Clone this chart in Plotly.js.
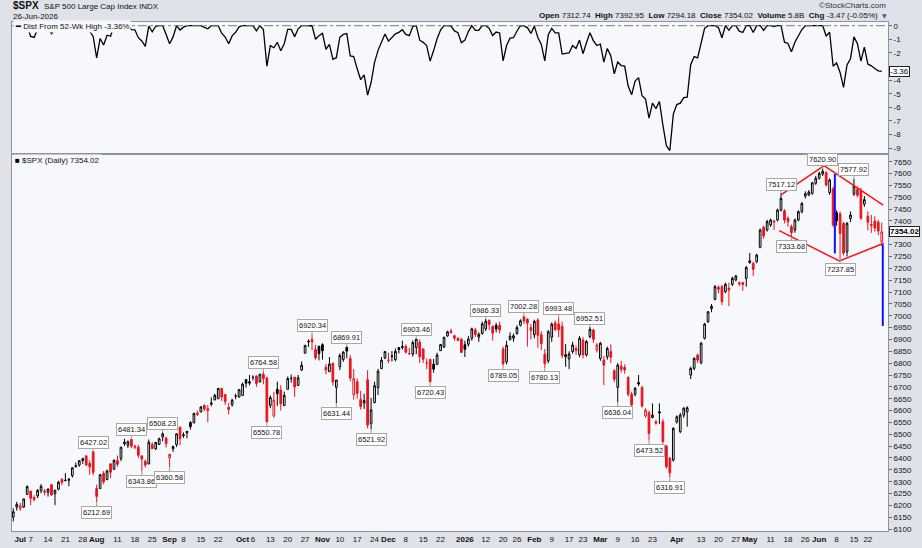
<!DOCTYPE html>
<html><head><meta charset="utf-8">
<script src="https://cdn.plot.ly/plotly-3.0.1.min.js"></script>
<style>html,body{margin:0;padding:0;background:#dfe2e8;}#chart{width:922px;height:548px;}</style>
</head><body><div id="chart"></div>
<script>
// ---------- calendar ----------
const START_DATE = '2025-06-27';
const END_DATE = '2026-06-26';
const HOLIDAYS = ['2025-07-04','2025-09-01','2025-11-27','2025-12-25','2026-01-01','2026-01-19','2026-02-16','2026-04-03','2026-05-25','2026-06-19'];

// ---------- OHLC (one per trading day) ----------
const opens = [
6150.7,6193.4,6187.3,6193.3,6246.5,
6259.8,6233.0,6240.0,6262.0,6255.0, 6255.0,6287.0,6250.0,6268.0,6310.0, 6304.0,6306.0,6326.0,6368.0,6370.0, 6397.0,6409.0,6377.0,6427.0,6271.0,
6271.0,6336.0,6309.0,6375.0,6352.0, 6389.0,6398.0,6460.0,6453.0,6478.0, 6445.0,6445.0,6409.0,6386.0,6375.0, 6457.0,6439.0,6457.0,6489.0,6484.0,
6401.0,6439.0,6456.0,6530.0, 6498.0,6506.0,6550.0,6548.0,6590.0, 6594.0,6622.0,6608.0,6627.0,6645.0, 6650.0,6693.0,6668.0,6614.0,6625.0, 6661.0,6657.0,6664.0,6731.0,6722.0,
6740.0,6746.0,6721.0,6753.0,6737.0, 6622.0,6578.0,6690.0,6687.0,6621.0, 6690.0,6736.0,6741.0,6706.0,6771.0, 6842.0,6893.0,6899.0,6858.0,6871.0,
6878.0,6783.0,6764.0,6800.0,6698.0, 6785.0,6816.0,6867.0,6820.0,6667.0, 6722.0,6647.0,6631.0,6730.0,6545.0, 6634.0,6697.0,6777.0,6822.0,
6812.0,6830.0,6815.0,6866.0,6866.0, 6871.0,6840.0,6838.0,6866.0,6889.0, 6860.0,6800.0,6816.0,6796.0,6795.0, 6853.0,6868.0,6915.0,6936.0, 6916.0,6904.0,6901.0,6878.0,
6880.0,6905.0,6940.0,6910.0,6925.0, 6945.0,6980.0,6955.0,6960.0,6960.0, 6860.0,6805.0,6900.0,6905.0, 6925.0,6960.0,6995.0,6985.0,6950.0,
6920.0,6982.0,6920.0,6838.0,6810.0, 6910.0,6970.0,6965.0,6955.0,6827.0, 6818.0,6849.0,6853.0,6835.0, 6898.0,6835.0,6912.0,6940.0,6856.0,
6820.0,6813.0,6827.0,6849.0,6768.0, 6698.0,6788.0,6782.0,6740.0,6669.0, 6669.0,6718.0,6697.0,6577.0,6591.0, 6571.0,6546.0,6595.0,6553.0,6451.0, 6399.0,6391.0,6553.0,6511.0,
6581.0,6595.0,6750.0,6778.0,6834.0, 6802.0,6905.0,6975.0,7030.0,7069.0, 7120.0,7123.0,7102.0,7116.0,7133.0, 7151.0,7134.0,7140.0,7158.0,7224.0,
7221.0,7228.0,7289.0,7373.0,7362.0, 7383.0,7395.0,7404.0,7446.0,7443.0, 7411.0,7376.0,7362.0,7404.0,7439.0, 7505.0,7510.0,7517.0,7559.0,
7580.0,7598.0,7604.0,7520.0,7535.0, 7435.0,7430.0,7390.0,7270.0,7410.0, 7514.0,7533.0,7528.0,7471.0, 7420.0,7380.0,7400.0,7395.0,7312.74];
const highs = [
6187.7,6215.1,6210.8,6227.6,6284.7,
6262.3,6242.0,6269.0,6290.2,6269.0, 6272.0,6291.0,6266.0,6304.0,6315.0, 6336.0,6316.0,6360.0,6381.0,6390.0, 6401.0,6409.0,6390.0,6427.02,6288.0,
6330.0,6345.0,6351.0,6379.0,6395.0, 6410.0,6446.0,6481.0,6474.0,6481.34, 6456.0,6456.0,6410.0,6393.0,6478.0, 6467.0,6466.0,6486.0,6508.23,6490.0,
6416.0,6452.0,6502.0,6532.0, 6508.0,6513.0,6555.0,6592.0,6600.0, 6619.0,6626.0,6624.0,6656.0,6671.0, 6695.0,6697.0,6668.0,6633.0,6650.0, 6671.0,6689.0,6718.0,6731.0,6750.0,
6749.0,6748.0,6753.0,6764.58,6744.0, 6664.0,6679.0,6722.0,6707.0,6680.0, 6744.0,6752.0,6742.0,6750.0,6807.0, 6877.0,6900.0,6920.34,6877.0,6874.0,
6884.0,6797.0,6826.0,6801.0,6729.0, 6841.0,6851.0,6869.91,6834.0,6775.0, 6736.0,6683.0,6671.0,6770.0,6654.0, 6722.0,6776.0,6826.0,6849.0,
6844.0,6851.0,6862.0,6867.0,6895.0, 6879.0,6865.0,6896.0,6903.46,6900.0, 6862.0,6819.0,6818.0,6818.0,6844.0, 6881.0,6910.0,6937.0,6945.0, 6920.0,6911.0,6907.0,6895.0,
6915.0,6950.0,6950.0,6930.0,6975.0, 6986.33,6985.0,6960.0,6970.0,6975.0, 6870.0,6895.0,6930.0,6925.0, 6960.0,6985.0,7002.28,6990.0,6965.0,
6983.0,6990.0,6935.0,6860.0,6940.0, 6972.0,6980.0,6993.48,6975.0,6880.0, 6850.0,6890.0,6875.0,6915.0, 6910.0,6898.0,6952.51,6945.0,6885.0,
6890.0,6830.0,6870.0,6880.0,6775.0, 6800.0,6810.0,6795.0,6745.0,6680.0, 6700.0,6750.0,6705.0,6610.0,6600.0, 6630.0,6560.0,6630.0,6565.0,6455.0, 6405.0,6530.0,6580.0,6590.0,
6615.0,6618.0,6785.0,6825.0,6840.0, 6890.0,6970.0,7020.0,7050.0,7130.0, 7128.0,7130.0,7140.0,7140.0,7165.0, 7172.0,7145.0,7142.0,7210.0,7265.0,
7228.0,7262.0,7368.0,7380.0,7405.0, 7410.0,7405.0,7452.0,7517.12,7450.0, 7420.0,7385.0,7410.0,7445.0,7480.0, 7525.0,7530.0,7565.0,7590.0,
7608.0,7620.90,7610.0,7580.0,7545.0, 7445.0,7440.0,7395.0,7395.0,7440.0, 7577.92,7545.0,7540.0,7505.0, 7440.0,7425.0,7420.0,7405.0,7392.95];
const lows = [
6132.4,6178.0,6177.1,6188.3,6246.5,
6201.4,6217.0,6231.0,6251.0,6242.0, 6237.0,6241.0,6201.0,6264.0,6285.0, 6303.0,6281.0,6317.0,6360.0,6363.0, 6375.0,6365.0,6329.0,6327.0,6212.69,
6271.0,6289.0,6306.0,6315.0,6352.0, 6364.0,6387.0,6451.0,6442.0,6441.0, 6437.0,6400.0,6343.86,6360.0,6374.0, 6438.0,6433.0,6456.0,6470.0,6444.0,
6360.58,6426.0,6446.0,6454.0, 6485.0,6483.0,6520.0,6547.0,6577.0, 6594.0,6598.0,6551.0,6618.0,6644.0, 6650.0,6641.0,6624.0,6584.0,6616.0, 6648.0,6656.0,6663.0,6697.0,6706.0,
6727.0,6700.0,6719.0,6711.0,6550.78, 6610.0,6570.0,6620.0,6600.0,6621.0, 6689.0,6718.0,6658.0,6705.0,6767.0, 6842.0,6869.0,6855.0,6815.0,6812.0,
6815.0,6753.0,6764.0,6705.0,6631.44, 6771.0,6806.0,6821.0,6724.0,6646.0, 6650.0,6604.0,6607.0,6525.0,6521.92, 6630.0,6666.0,6775.0,6817.0,
6800.0,6807.0,6808.0,6841.0,6858.0, 6841.0,6835.0,6828.0,6838.0,6801.0, 6801.0,6775.0,6720.43,6760.0,6792.0, 6853.0,6864.0,6911.0,6924.0, 6895.0,6893.0,6845.0,6826.0,
6870.0,6895.0,6910.0,6890.0,6920.0, 6935.0,6940.0,6895.0,6930.0,6925.0, 6789.05,6795.0,6895.0,6890.0, 6920.0,6955.0,6965.0,6870.0,6900.0,
6905.0,6865.0,6855.0,6780.13,6800.0, 6890.0,6935.0,6910.0,6820.0,6785.0, 6775.0,6840.0,6835.0,6825.0, 6820.0,6828.0,6905.0,6885.0,6845.0,
6810.0,6708.0,6815.0,6800.0,6720.0, 6636.04,6760.0,6755.0,6660.0,6615.0, 6660.0,6703.0,6612.0,6570.0,6473.52, 6567.0,6540.0,6543.0,6460.0,6355.0, 6316.91,6385.0,6545.0,6505.0,
6570.0,6532.0,6733.0,6770.0,6800.0, 6795.0,6900.0,6970.0,7015.0,7065.0, 7095.0,7045.0,7095.0,7041.0,7125.0, 7145.0,7125.0,7105.0,7123.0,7220.0,
7168.0,7222.0,7285.0,7325.0,7355.0, 7375.0,7362.0,7398.0,7440.0,7390.0, 7375.0,7333.68,7350.0,7398.0,7432.0, 7495.0,7505.0,7510.0,7552.0,
7575.0,7590.0,7545.0,7510.0,7375.0, 7380.0,7237.85,7255.0,7250.0,7395.0, 7505.0,7500.0,7405.0,7460.0, 7360.0,7350.0,7355.0,7340.0,7294.18];
const closes = [
6173.1,6205.0,6198.0,6227.4,6279.4,
6230.0,6225.5,6263.3,6280.5,6259.8, 6268.6,6243.8,6263.7,6297.4,6296.8, 6305.6,6309.6,6358.9,6363.4,6388.6, 6389.8,6370.9,6362.9,6339.4,6238.0,
6329.9,6299.2,6345.1,6340.0,6389.5, 6373.5,6445.8,6466.6,6468.5,6449.8, 6449.2,6411.4,6395.8,6370.2,6466.9, 6439.3,6465.9,6481.4,6501.9,6460.3,
6415.5,6448.3,6502.1,6481.5, 6495.2,6512.6,6532.0,6587.5,6584.3, 6615.3,6606.8,6600.4,6632.0,6664.4, 6693.8,6656.9,6638.0,6604.7,6643.7, 6661.2,6688.5,6711.2,6715.4,6715.8,
6740.3,6714.6,6753.7,6735.1,6552.5, 6654.7,6644.3,6671.1,6629.1,6664.0, 6735.1,6735.4,6699.4,6738.4,6791.7, 6875.2,6890.9,6890.6,6822.3,6840.2,
6852.0,6771.6,6796.3,6720.3,6728.8, 6832.4,6846.6,6850.9,6737.5,6734.1, 6672.4,6617.3,6642.2,6538.8,6603.0, 6705.1,6765.9,6812.6,6849.1,
6812.6,6829.4,6849.7,6857.1,6870.4, 6846.5,6840.5,6886.7,6901.0,6827.4, 6816.5,6800.3,6721.4,6774.8,6834.5, 6878.5,6909.8,6932.1,6929.9, 6905.7,6896.2,6845.5,6858.5,
6902.1,6944.8,6920.9,6921.5,6966.3, 6977.3,6963.7,6926.6,6944.5,6940.0, 6796.9,6875.6,6913.4,6915.6, 6950.2,6978.6,6978.0,6969.0,6939.0,
6976.4,6917.8,6882.7,6798.4,6932.3, 6964.8,6941.8,6941.5,6832.8,6836.2, 6839.0,6877.0,6862.0,6905.0, 6835.0,6891.0,6943.0,6901.0,6877.0,
6884.0,6792.0,6862.0,6825.0,6732.0, 6792.0,6774.0,6771.0,6669.0,6624.0, 6694.0,6712.0,6619.0,6602.0,6504.0, 6581.0,6553.0,6590.0,6469.0,6363.0, 6338.0,6525.0,6574.0,6581.0,
6610.0,6612.0,6778.0,6820.0,6813.0, 6884.0,6965.0,7017.0,7040.0,7123.0, 7112.0,7060.0,7133.0,7109.0,7158.0, 7168.0,7139.0,7132.0,7204.0,7232.0,
7196.0,7256.0,7362.0,7337.0,7397.0, 7404.0,7399.0,7446.0,7495.0,7404.0, 7397.0,7351.0,7404.0,7439.0,7474.0, 7515.0,7522.0,7561.0,7580.0,
7600.0,7609.7,7552.0,7573.0,7383.0, 7401.0,7348.0,7265.0,7390.0,7425.0, 7547.0,7509.0,7411.0,7490.0, 7395.0,7385.0,7370.0,7357.49,7354.02];
const prevCloseBeforeStart = 6141.02;
const priorMaxClose = 6144.15;

// ---------- swing labels ----------
const peakDates  = ['2025-07-31','2025-08-15','2025-08-28','2025-10-09','2025-10-29','2025-11-12','2025-12-11','2026-01-12','2026-01-28','2026-02-11','2026-02-25','2026-05-14','2026-06-02','2026-06-15'];
const peakValues = [6427.02,6481.34,6508.23,6764.58,6920.34,6869.91,6903.46,6986.33,7002.28,6993.48,6952.51,7517.12,7620.90,7577.92];
const troughDates  = ['2025-08-01','2025-08-20','2025-09-02','2025-10-10','2025-11-07','2025-11-21','2025-12-17','2026-01-20','2026-02-05','2026-03-09','2026-03-20','2026-03-30','2026-05-19','2026-06-09'];
const troughValues = [6212.69,6343.86,6360.58,6550.78,6631.44,6521.92,6720.43,6789.05,6780.13,6636.04,6473.52,6316.91,7333.68,7237.85];

// ---------- drawn lines (trading-day position, price) ----------
const upperTrendPos = [221.2, 233.4, 250.4];
const upperTrendPx  = [7512, 7633, 7467];
const lowerTrendPos = [220.5, 237.8, 250.6];
const lowerTrendPx  = [7359, 7231, 7306];
const blueLine1Pos = [236.5, 236.5];
const blueLine1Px  = [7598, 7263];
const blueLine2Pos = [250.3, 250.3];
const blueLine2Px  = [7301, 6957];

// ---------- axis labels ----------
const tickDates = ['2025-07-01','2025-07-07','2025-07-14','2025-07-21','2025-07-28','2025-08-01','2025-08-11','2025-08-18','2025-08-25','2025-09-02','2025-09-08','2025-09-15','2025-09-22','2025-10-01','2025-10-06','2025-10-13','2025-10-20','2025-10-27','2025-11-03','2025-11-10','2025-11-17','2025-11-24','2025-12-01','2025-12-08','2025-12-15','2025-12-22','2026-01-02','2026-01-12','2026-01-20','2026-01-26','2026-02-02','2026-02-09','2026-02-17','2026-02-23','2026-03-02','2026-03-09','2026-03-16','2026-03-23','2026-04-01','2026-04-13','2026-04-20','2026-04-27','2026-05-01','2026-05-11','2026-05-18','2026-05-26','2026-06-01','2026-06-08','2026-06-15','2026-06-22'];
const tickText = ['<b>Jul</b>','7','14','21','28','<b>Aug</b>','11','18','25','<b>Sep</b>','8','15','22','<b>Oct</b>','6','13','20','27','<b>Nov</b>','10','17','24','<b>Dec</b>','8','15','22','<b>2026</b>','12','20','26','<b>Feb</b>','9','17','23','<b>Mar</b>','9','16','23','<b>Apr</b>','13','20','27','<b>May</b>','11','18','26','<b>Jun</b>','8','15','22'];
// price ticks every 50; labels hidden behind the last-value boxes are left out
const priceTicks = [6100,6150,6200,6250,6300,6350,6400,6450,6500,6550,6600,6650,6700,6750,6800,6850,6900,6950,7000,7050,7100,7150,7200,7250,7300,7400,7450,7500,7550,7600,7650];
const distTicks = [0,-1,-2,-4,-5,-6,-7,-8,-9];

// ---------- build ----------
function tradingDays(){
  const out=[]; const d=new Date(START_DATE+'T12:00:00Z'); const end=new Date(END_DATE+'T12:00:00Z');
  while(d<=end){const wd=d.getUTCDay(); const s=d.toISOString().slice(0,10);
    if(wd!==0&&wd!==6&&HOLIDAYS.indexOf(s)<0) out.push(s); d.setUTCDate(d.getUTCDate()+1);}
  return out;
}
const dates = tradingDays();
const idx = s => dates.indexOf(s);
const N = closes.length;
const pos = closes.map((_,i)=>i);

const FONT = 'Liberation Sans, Arial, sans-serif';
const groups = {bh:[],rh:[],rf:[],bf:[]};
for(let i=0;i<N;i++){
  const pc = i>0?closes[i-1]:prevCloseBeforeStart;
  const up = closes[i]>=pc, hollow = closes[i]>opens[i];
  const g = hollow?(up?'bh':'rh'):(up?'bf':'rf');
  groups[g].push(i);
}
const style = {bh:['#000000','#ffffff'], rh:['#e8141c','#ffffff'], rf:['#e8141c','#e8141c'], bf:['#000000','#000000']};
const traces = [];
Object.keys(groups).forEach(k=>{
  const ids = groups[k]; const [lc,fc]=style[k];
  const st = {line:{color:lc,width:1},fillcolor:fc};
  traces.push({type:'candlestick', xaxis:'x', yaxis:'y',
    x:ids.map(i=>pos[i]), open:ids.map(i=>opens[i]), high:ids.map(i=>highs[i]),
    low:ids.map(i=>lows[i]), close:ids.map(i=>closes[i]),
    increasing:st, decreasing:st, whiskerwidth:0, showlegend:false, hoverinfo:'skip'});
});
// Dist from 52-week (closing) high
let runMax = priorMaxClose; const dist=[];
for(let i=0;i<N;i++){ runMax=Math.max(runMax,closes[i]); dist.push((closes[i]/runMax-1)*100); }
traces.push({type:'scatter',mode:'lines',x:pos,y:dist,xaxis:'x2',yaxis:'y2',line:{color:'#000',width:1.3},showlegend:false,hoverinfo:'skip'});
traces.push({type:'scatter',mode:'lines',x:upperTrendPos,y:upperTrendPx,line:{color:'#ff1010',width:1.5},showlegend:false,hoverinfo:'skip'});
traces.push({type:'scatter',mode:'lines',x:lowerTrendPos,y:lowerTrendPx,line:{color:'#ff1010',width:1.5},showlegend:false,hoverinfo:'skip'});
traces.push({type:'scatter',mode:'lines',x:blueLine1Pos,y:blueLine1Px,line:{color:'#1010ff',width:2},showlegend:false,hoverinfo:'skip'});
traces.push({type:'scatter',mode:'lines',x:blueLine2Pos,y:blueLine2Px,line:{color:'#1010ff',width:2},showlegend:false,hoverinfo:'skip'});

// pixel helpers for texts placed in the margins
const L=12,R=888,T=22,B=531;
const px = x=>(x-L)/(R-L), py = y=>(B-y)/(B-T);

const ann = [];
const boxStyle = {bgcolor:'#ffffff',bordercolor:'#a8a8a8',borderwidth:1,borderpad:1,font:{family:FONT,size:7.5,color:'#111'},
  showarrow:true,arrowhead:0,arrowwidth:1,arrowcolor:'#9a9a9a',ax:0,xref:'x',yref:'y'};
peakDates.forEach((d,k)=>ann.push(Object.assign({},boxStyle,{x:idx(d),y:peakValues[k],text:peakValues[k].toFixed(2),ay:-9})));
troughDates.forEach((d,k)=>ann.push(Object.assign({},boxStyle,{x:idx(d),y:troughValues[k],text:troughValues[k].toFixed(2),ay:10})));

const last = N-1;
const hdr = (x,y,text,opt)=>Object.assign({xref:'paper',yref:'paper',x:px(x),y:py(y),text:text,showarrow:false,xanchor:'left',yanchor:'middle',font:{family:FONT,size:8,color:'#111'}},opt||{});
ann.push(hdr(11,6,'<b>$SPX</b>',{font:{family:FONT,size:10,color:'#111'}}));
ann.push(hdr(42,6.5,'S&P 500 Large Cap Index INDX'));
ann.push(hdr(11,17,'26-Jun-2026'));
ann.push(hdr(888,6,'©StockCharts.com',{xanchor:'right',font:{family:FONT,size:8,color:'#333'}}));
ann.push(hdr(880,16,'<b>Open</b> '+opens[last].toFixed(2)+'  <b>High</b> '+highs[last].toFixed(2)+'  <b>Low</b> '+lows[last].toFixed(2)+'  <b>Close</b> '+closes[last].toFixed(2)+'  <b>Volume</b> 5.8B  <b>Chg</b> '+(closes[last]-closes[last-1]).toFixed(2)+' ('+((closes[last]/closes[last-1]-1)*100).toFixed(2)+'%)',{xanchor:'right'}));
ann.push(hdr(889,16,'▼',{xanchor:'right',font:{family:'DejaVu Sans',size:6,color:'#3d5fa8'}}));
ann.push(hdr(13,26,'<b>━</b> Dist From 52-Wk High '+dist[last].toFixed(2)+'%',{bgcolor:'#f7f8fb'}));
ann.push(hdr(13,160,'<span style="color:#000">■</span> $SPX (Daily) '+closes[last].toFixed(2),{bgcolor:'#f7f8fb'}));
ann.push({xref:'paper',yref:'y',x:1,y:closes[last],xanchor:'left',xshift:1,text:'<b>'+closes[last].toFixed(2)+'</b>',showarrow:false,
  bgcolor:'#ffffff',bordercolor:'#222',borderwidth:1,borderpad:0,font:{family:FONT,size:8,color:'#000'}});
ann.push({xref:'paper',yref:'y2',x:1,y:dist[last],xanchor:'left',xshift:1,text:dist[last].toFixed(2),showarrow:false,
  bgcolor:'#ffffff',bordercolor:'#222',borderwidth:1,borderpad:0,font:{family:FONT,size:8,color:'#000'}});

const xr=[-0.37,251.8];
const axLine = {showline:true,linecolor:'#8f949c',linewidth:1,mirror:true,showgrid:false,zeroline:false};
const layout = {
  width:922,height:548,margin:{l:L,r:922-R,t:T,b:548-B},
  paper_bgcolor:'#dfe2e8',plot_bgcolor:'#f7f8fb',showlegend:false,
  font:{family:FONT,size:8,color:'#111'},
  xaxis:Object.assign({domain:[0,1],range:xr,anchor:'y',tickmode:'array',tickvals:tickDates.map(idx),ticktext:tickText,ticks:'',tickangle:0,
     tickfont:{family:FONT,size:8,color:'#111'},rangeslider:{visible:false},fixedrange:true},axLine),
  xaxis2:Object.assign({domain:[0,1],range:xr,anchor:'y2',showticklabels:false,ticks:''},axLine),
  yaxis:Object.assign({domain:[0,py(155)],range:[6092,7678.3],side:'right',tickmode:'array',tickvals:priceTicks,ticktext:priceTicks.map(String),ticks:'outside',ticklen:3,tickcolor:'#666',
     tickfont:{family:FONT,size:8,color:'#111'}},axLine),
  yaxis2:Object.assign({domain:[py(153),1],range:[-9.36,0.272],side:'right',tickmode:'array',tickvals:distTicks,ticktext:distTicks.map(String),ticks:'outside',ticklen:3,tickcolor:'#666',
     tickfont:{family:FONT,size:8,color:'#111'}},axLine),
  shapes:[{type:'line',xref:'paper',x0:0,x1:1,yref:'y2',y0:0,y1:0,line:{color:'#7a7a7a',width:1,dash:'dashdot'}}],
  annotations:ann
};
Plotly.newPlot('chart',traces,layout,{staticPlot:true,displayModeBar:false});
</script></body></html>
